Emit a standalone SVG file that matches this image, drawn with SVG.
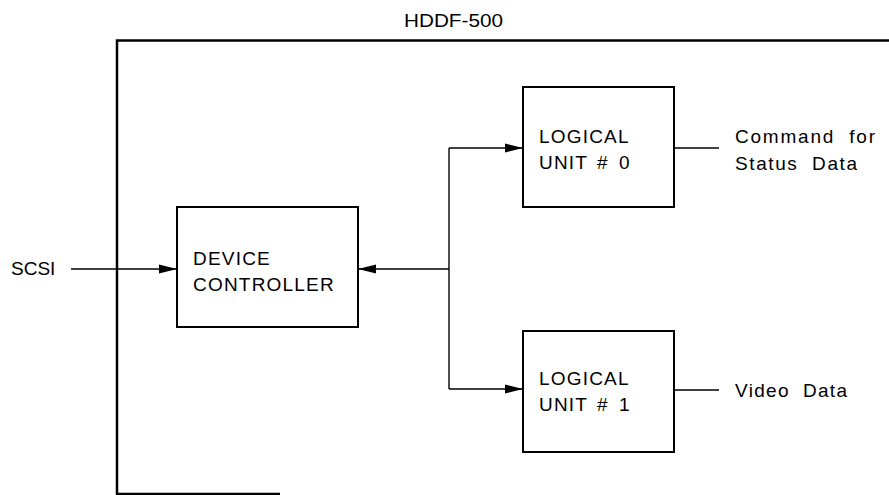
<svg xmlns="http://www.w3.org/2000/svg" width="889" height="495" viewBox="0 0 889 495">
<style>
  .t { font-family: "Liberation Sans", Arial, sans-serif; font-size: 19px; fill: #000; }
  .caps { letter-spacing: 1.2px; }
  .box { fill: #fff; stroke: #000; stroke-width: 2; }
  .ln { fill: none; stroke: #000; stroke-width: 1.4; }
  .frame { fill: none; stroke: #000; stroke-width: 2.5; }
</style>
<defs>
  <marker id="arr" viewBox="0 0 18 10" refX="18" refY="5" markerWidth="18" markerHeight="10" markerUnits="userSpaceOnUse" orient="auto">
    <path d="M0,0.5 L18,5 L0,9.5 Z" fill="#000"/>
  </marker>
</defs>
<rect width="889" height="495" fill="#fff"/>

<g id="frame">
  <path class="frame" d="M889,40.5 L117,40.5 L117,494 L280,494"/>
  <text class="t" x="404" y="27" textLength="99" lengthAdjust="spacingAndGlyphs">HDDF-500</text>
</g>

<g id="connectors">
  <line class="ln" x1="71" y1="269" x2="177" y2="269" marker-end="url(#arr)"/>
  <line class="ln" x1="449" y1="269" x2="358" y2="269" marker-end="url(#arr)"/>
  <line class="ln" x1="449" y1="148" x2="449" y2="389"/>
  <line class="ln" x1="449" y1="148" x2="523" y2="148" marker-end="url(#arr)"/>
  <line class="ln" x1="449" y1="389" x2="523" y2="389" marker-end="url(#arr)"/>
  <line class="ln" x1="674" y1="148" x2="719" y2="148"/>
  <line class="ln" x1="674" y1="390" x2="719" y2="390"/>
</g>

<g id="scsi">
  <text class="t" x="11" y="275">SCSI</text>
</g>

<g id="device-controller">
  <rect class="box" x="177" y="207" width="181" height="120"/>
  <text class="t caps" x="193" y="265">DEVICE</text>
  <text class="t caps" x="193" y="291">CONTROLLER</text>
</g>

<g id="logical-unit-0">
  <rect class="box" x="523" y="87" width="151" height="120"/>
  <text class="t caps" x="539" y="143">LOGICAL</text>
  <text class="t caps" x="539" y="169">UNIT</text>
  <text class="t" x="597" y="169">#</text>
  <text class="t" x="619" y="169">0</text>
</g>

<g id="logical-unit-1">
  <rect class="box" x="523" y="331" width="151" height="121"/>
  <text class="t caps" x="539" y="385">LOGICAL</text>
  <text class="t caps" x="539" y="411">UNIT</text>
  <text class="t" x="597" y="411">#</text>
  <text class="t" x="619" y="411">1</text>
</g>

<g id="status-output">
  <text class="t" x="735" y="143" xml:space="preserve" textLength="140" lengthAdjust="spacing">Command  for</text>
  <text class="t" x="735" y="170" xml:space="preserve" textLength="122" lengthAdjust="spacing">Status  Data</text>
</g>

<g id="video-output">
  <text class="t" x="735" y="397" xml:space="preserve" textLength="112" lengthAdjust="spacing">Video  Data</text>
</g>
</svg>
